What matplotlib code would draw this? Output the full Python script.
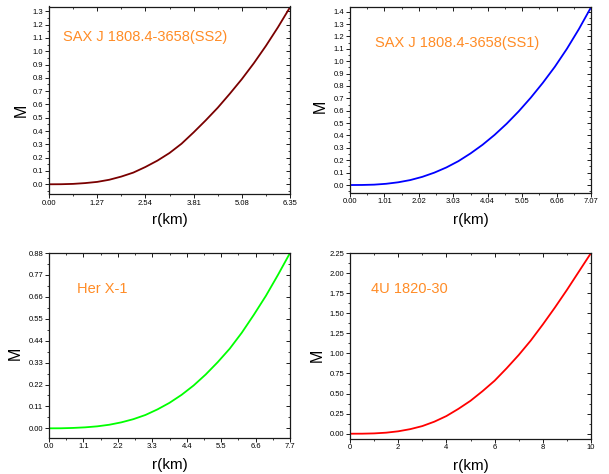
import matplotlib
matplotlib.use("Agg")
import matplotlib.pyplot as plt
from matplotlib.ticker import MultipleLocator, FixedLocator, FixedFormatter

plt.rcParams['font.family'] = ['Liberation Sans', 'DejaVu Sans']

# ---------------- data ----------------
titles = ["SAX J 1808.4-3658(SS2)", "SAX J 1808.4-3658(SS1)", "Her X-1", "4U 1820-30"]

r_ss2 = [0, 0.3175, 0.635, 0.9525, 1.27, 1.5875, 1.905, 2.2225, 2.54, 2.8575, 3.175,
         3.4925, 3.81, 4.1275, 4.445, 4.7625, 5.08, 5.3975, 5.715, 6.0325, 6.35]
m_ss2 = [0, 0.0005, 0.003, 0.009, 0.018, 0.034, 0.058, 0.088, 0.13, 0.178, 0.235,
         0.305, 0.39, 0.48, 0.575, 0.68, 0.79, 0.91, 1.04, 1.18, 1.33]

r_ss1 = [0, 0.3535, 0.707, 1.0605, 1.414, 1.7675, 2.121, 2.4745, 2.828, 3.1815, 3.535,
         3.8885, 4.242, 4.5955, 4.949, 5.3025, 5.656, 6.0095, 6.363, 6.7165, 7.07]
m_ss1 = [0, 0.0005, 0.003, 0.01, 0.022, 0.04, 0.066, 0.1, 0.142, 0.193, 0.255,
         0.325, 0.405, 0.495, 0.595, 0.705, 0.825, 0.955, 1.1, 1.26, 1.435]

r_her = [0, 0.385, 0.77, 1.155, 1.54, 1.925, 2.31, 2.695, 3.08, 3.465, 3.85,
         4.235, 4.62, 5.005, 5.39, 5.775, 6.16, 6.545, 6.93, 7.315, 7.7]
m_her = [0, 0.0003, 0.002, 0.005, 0.01, 0.018, 0.03, 0.046, 0.067, 0.095, 0.128,
         0.168, 0.215, 0.27, 0.332, 0.4, 0.48, 0.57, 0.665, 0.77, 0.88]

r_4u = [0, 0.5, 1, 1.5, 2, 2.5, 3, 3.5, 4, 4.5, 5,
        5.5, 6, 6.5, 7, 7.5, 8, 8.5, 9, 9.5, 10]
m_4u = [0, 0.0005, 0.004, 0.013, 0.03, 0.057, 0.095, 0.15, 0.22, 0.31, 0.41,
        0.53, 0.66, 0.815, 0.98, 1.16, 1.36, 1.57, 1.79, 2.02, 2.25]

xticks_ss2 = [0.00, 1.27, 2.54, 3.81, 5.08, 6.35]
xlabels_ss2 = ["0.00", "1.27", "2.54", "3.81", "5.08", "6.35"]
yticks_ss2 = [round(0.1 * i, 1) for i in range(14)]
ylabels_ss2 = ["%.1f" % v for v in yticks_ss2]

xticks_ss1 = [0.00, 1.01, 2.02, 3.03, 4.04, 5.05, 6.06, 7.07]
xlabels_ss1 = ["0.00", "1.01", "2.02", "3.03", "4.04", "5.05", "6.06", "7.07"]
yticks_ss1 = [round(0.1 * i, 1) for i in range(15)]
ylabels_ss1 = ["%.1f" % v for v in yticks_ss1]

xticks_her = [0.0, 1.1, 2.2, 3.3, 4.4, 5.5, 6.6, 7.7]
xlabels_her = ["0.0", "1.1", "2.2", "3.3", "4.4", "5.5", "6.6", "7.7"]
yticks_her = [0.00, 0.11, 0.22, 0.33, 0.44, 0.55, 0.66, 0.77, 0.88]
ylabels_her = ["0.00", "0.11", "0.22", "0.33", "0.44", "0.55", "0.66", "0.77", "0.88"]

xticks_4u = [0, 2, 4, 6, 8, 10]
xlabels_4u = ["0", "2", "4", "6", "8", "10"]
yticks_4u = [0.00, 0.25, 0.50, 0.75, 1.00, 1.25, 1.50, 1.75, 2.00, 2.25]
ylabels_4u = ["0.00", "0.25", "0.50", "0.75", "1.00", "1.25", "1.50", "1.75", "2.00", "2.25"]

# ---------------- layout ----------------
W, H = 609, 474
fig = plt.figure(figsize=(W / 100, H / 100), dpi=100)

def px_rect(left, right, top, bottom):
    return [left / W, 1 - bottom / H, (right - left) / W, (bottom - top) / H]

panels = [
    dict(box=(49, 290, 6.5, 194), r=r_ss2, m=m_ss2, color="#7a0000",
         xlim=(0, 6.35), ylim=(-0.073, 1.336),
         xt=xticks_ss2, xl=xlabels_ss2, yt=yticks_ss2, yl=ylabels_ss2,
         xminor=0.635, yminor=0.05, title=titles[0], tpos=(0.057, 0.837),
         mpos=(-0.117, 0.447), rpos=(0.5, -0.138)),
    dict(box=(350, 591, 6.7, 192.7), r=r_ss1, m=m_ss1, color="#0000ff",
         xlim=(0, 7.07), ylim=(-0.062, 1.44),
         xt=xticks_ss1, xl=xlabels_ss1, yt=yticks_ss1, yl=ylabels_ss1,
         xminor=0.505, yminor=0.05, title=titles[1], tpos=(0.104, 0.803),
         mpos=(-0.122, 0.462), rpos=(0.5, -0.147)),
    dict(box=(49, 290, 253, 437.7), r=r_her, m=m_her, color="#00ff00",
         xlim=(0, 7.7), ylim=(-0.047, 0.88),
         xt=xticks_her, xl=xlabels_her, yt=yticks_her, yl=ylabels_her,
         xminor=0.55, yminor=0.055, title=titles[2], tpos=(0.117, 0.803),
         mpos=(-0.138, 0.455), rpos=(0.5, -0.149)),
    dict(box=(350, 591, 253, 438.7), r=r_4u, m=m_4u, color="#ff0000",
         xlim=(0, 10), ylim=(-0.062, 2.25),
         xt=xticks_4u, xl=xlabels_4u, yt=yticks_4u, yl=ylabels_4u,
         xminor=1.0, yminor=0.125, title=titles[3], tpos=(0.086, 0.805),
         mpos=(-0.134, 0.449), rpos=(0.5, -0.149)),
]

orange = "#ff8c26"
tick_fs = 5.5
spine_c = "#1a1a1a"

for p in panels:
    rect = px_rect(*p["box"])
    # inward-tick frame for top and right
    fr = fig.add_axes(rect)
    fr.set_xlim(*p["xlim"])
    fr.set_ylim(*p["ylim"])
    fr.patch.set_visible(False)
    fr.xaxis.set_major_locator(FixedLocator(p["xt"]))
    fr.yaxis.set_major_locator(FixedLocator(p["yt"]))
    fr.xaxis.set_minor_locator(MultipleLocator(p["xminor"]))
    fr.yaxis.set_minor_locator(MultipleLocator(p["yminor"]))
    fr.tick_params(which="both", direction="in", bottom=False, left=False,
                   top=True, right=True, labelbottom=False, labelleft=False,
                   color=spine_c)
    fr.tick_params(which="major", length=2.6, width=0.7)
    fr.tick_params(which="minor", length=1.4, width=0.6)
    for s in fr.spines.values():
        s.set_visible(False)

    ax = fig.add_axes(rect)
    ax.patch.set_visible(False)
    ax.plot(p["r"], p["m"], color=p["color"], lw=1.3, solid_capstyle="butt")
    ax.set_xlim(*p["xlim"])
    ax.set_ylim(*p["ylim"])
    for s in ax.spines.values():
        s.set_linewidth(0.9)
        s.set_color(spine_c)

    ax.xaxis.set_major_locator(FixedLocator(p["xt"]))
    ax.xaxis.set_major_formatter(FixedFormatter(p["xl"]))
    ax.yaxis.set_major_locator(FixedLocator(p["yt"]))
    ax.yaxis.set_major_formatter(FixedFormatter(p["yl"]))
    ax.xaxis.set_minor_locator(MultipleLocator(p["xminor"]))
    ax.yaxis.set_minor_locator(MultipleLocator(p["yminor"]))
    ax.tick_params(which="both", direction="out", top=False, right=False, color=spine_c)
    ax.tick_params(which="major", length=2.6, width=0.7, labelsize=tick_fs, pad=1.5)
    ax.tick_params(which="minor", length=1.4, width=0.6)

    ax.set_xlabel("r(km)", fontsize=11, va="center")
    ax.xaxis.set_label_coords(*p["rpos"])
    ax.set_ylabel("M", fontsize=11.5, va="center")
    ax.yaxis.set_label_coords(*p["mpos"])

    ax.text(p["tpos"][0], p["tpos"][1], p["title"], transform=ax.transAxes,
            color=orange, fontsize=10.5, ha="left", va="center")

fig.savefig("out.png", dpi=100)
